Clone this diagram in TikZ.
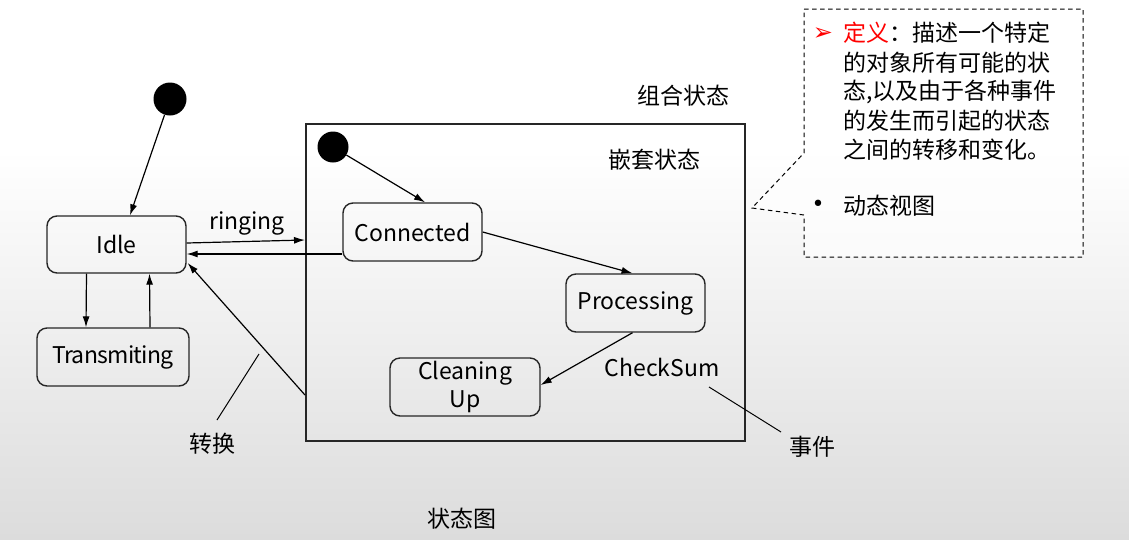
\documentclass[tikz,border=0pt]{standalone}
\usepackage{fontspec}
\setmainfont{Noto Sans CJK SC}
\newfontfamily\dejavu{DejaVu Sans}
\usetikzlibrary{arrows.meta,calc}
\definecolor{bgbot}{HTML}{DCDCDC}
\tikzset{
  state/.style={draw=black!85, line width=1.4pt, rounded corners=10pt, fill=none, inner sep=0pt, align=center, font=\fontsize{23}{26}\selectfont},
  initdot/.style={circle, fill=black, inner sep=0pt},
  trans/.style={line width=1.2pt, -{Latex[length=11pt,width=7pt]}},
  lbl/.style={font=\fontsize{23}{26}\selectfont, inner sep=0pt},
  cjk/.style={font=\fontsize{23}{26}\selectfont, inner sep=0pt},
  pointer/.style={line width=1pt},
  defline/.style={font=\fontsize{23}{26}\selectfont, inner sep=0pt, anchor=west}
}
\begin{document}
\begin{tikzpicture}[x=1pt,y=-1pt]
\useasboundingbox (0,0) rectangle (1129,539);
\fill[white] (0,0) rectangle (1129,150);
\shade[top color=white, bottom color=bgbot] (0,149.5) rectangle (1129,539);

% composite state
\node[draw=black!85, line width=2pt, minimum width=439pt, minimum height=317pt, inner sep=0pt] (comp) at (525.5,282.5) {};

% initial states
\node[initdot, minimum size=33pt] (init1) at (170,99) {};
\node[initdot, minimum size=31pt] (init2) at (333,147) {};

% states
\node[state, minimum width=139pt, minimum height=57pt] (idle) at (116.5,244.5) {Idle};
\node[state, minimum width=152pt, minimum height=58pt] (transm) at (113,357) {\addfontfeatures{LetterSpace=-3}Transmiting};
\node[state, minimum width=139pt, minimum height=58pt] (conn) at (412.5,232) {Connected};
\node[state, minimum width=139pt, minimum height=58pt] (proc) at (635.5,303) {Processing};
\node[state, minimum width=150pt, minimum height=58pt, font=\fontsize{23}{28}\selectfont] (clean) at (465,387) {Cleaning\\Up};

% labels
\node[lbl] (ringing) at (247,223) {ringing};
\node[lbl] (checksum) at (662,367) {CheckSum};
\node[cjk] (event) at (812,447) {事件};
\node[cjk] (zhuanhuan) at (212,444) {转换};
\node[cjk] (zuhe) at (683,96) {组合状态};
\node[cjk] (qiantao) at (654,160) {嵌套状态};
\node[cjk] (title) at (462,519) {状态图};

% transitions
\draw[trans] (init1) -- ([xshift=13.5pt]idle.north);
\draw[trans] ([xshift=-30pt]idle.south) -- ([xshift=-27pt]transm.north);
\draw[trans] ([xshift=37pt]transm.north) -- ([xshift=33pt]idle.south);
\draw[trans] ([yshift=1.5pt]idle.east) -- ([yshift=42.5pt]comp.west);
\draw[trans] ([yshift=-22pt]conn.west) -- ([yshift=-9.5pt]idle.east);
\draw[trans] ([yshift=-112.5pt]comp.west) -- ([yshift=-18.5pt,xshift=1pt]idle.east);
\draw[trans] (init2) -- ([xshift=12.5pt]conn.north);
\draw[trans] (conn.east) -- ([xshift=-3pt]proc.north);
\draw[trans] ([xshift=-3pt]proc.south) -- ([yshift=2pt]clean.east);

% pointer lines
\coordinate (ev1) at (709,387);
\coordinate (ev2) at (781,432);
\draw[pointer] (ev1) -- (ev2);
\coordinate (tr1) at (259,354);
\coordinate (tr2) at (217,420);
\draw[pointer] (tr1) -- (tr2);

% callout
\draw[line width=1pt, dash pattern=on 4.5pt off 3.5pt, fill=white, fill opacity=0.6]
  (804,9) -- (1083,9) -- (1083,257) -- (804,257) -- (804,215) -- (752,208) -- (804,153) -- cycle;
\node[inner sep=0pt, text=red, font=\dejavu\fontsize{24}{26}\selectfont] (arrowmark) at (823,34) {➢};
\node[defline] (def1) at (843,33) {\textcolor{red}{定义}：描述一个特定};
\node[defline] (def2) at (843,63) {的对象所有可能的状};
\node[defline] (def3) at (843,92) {态,以及由于各种事件};
\node[defline] (def4) at (843,121) {的发生而引起的状态};
\node[defline] (def5) at (843,150) {之间的转移和变化。};
\node[inner sep=0pt, font=\dejavu\fontsize{22}{24}\selectfont] (bullet) at (818,206) {•};
\node[defline] (def6) at (843,206) {动态视图};
\end{tikzpicture}
\end{document}
